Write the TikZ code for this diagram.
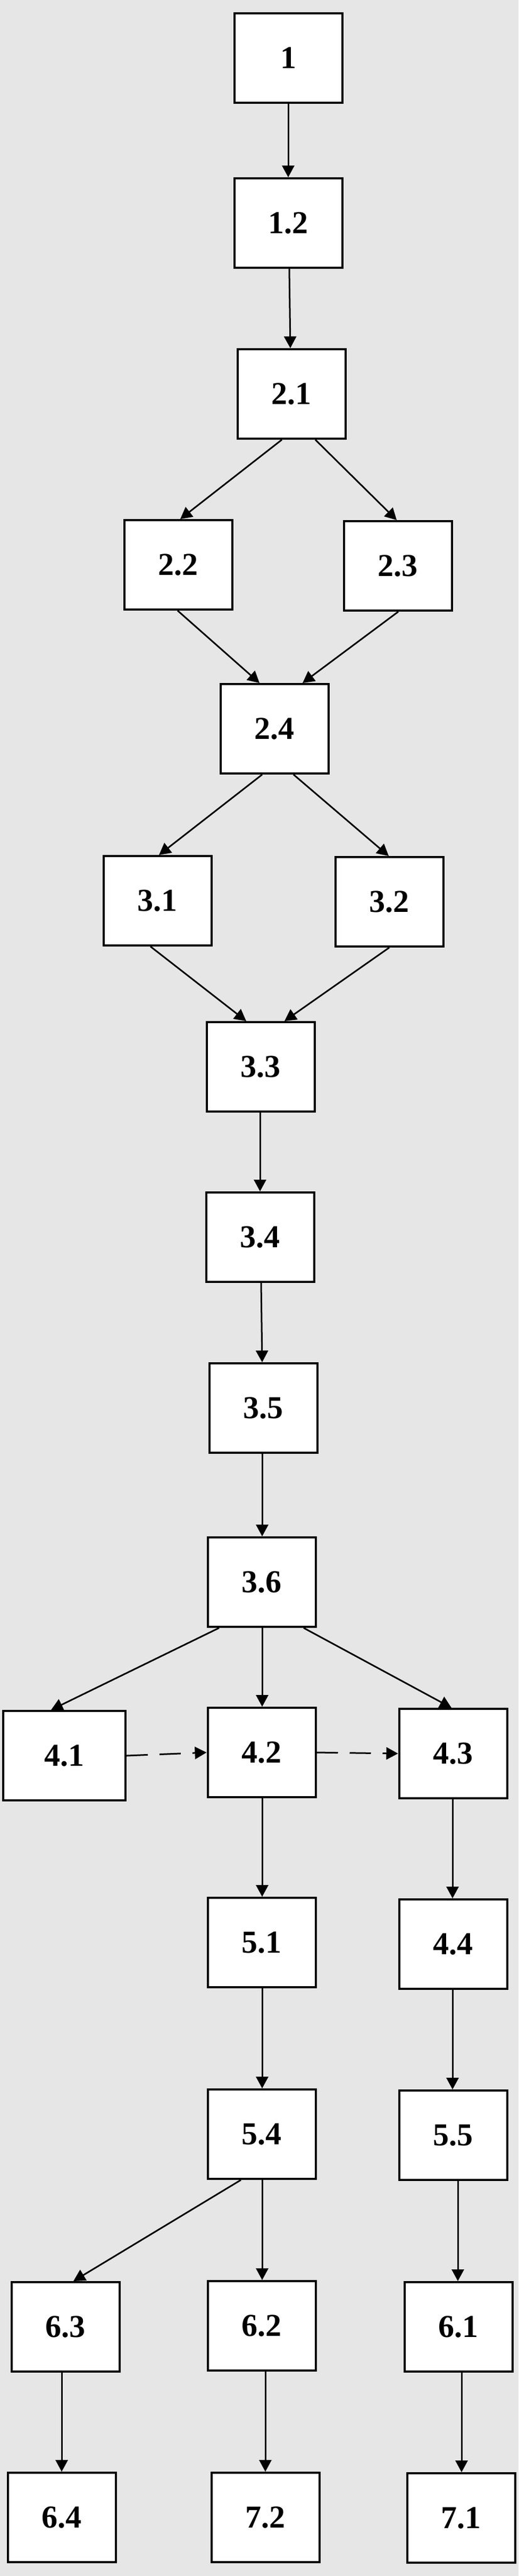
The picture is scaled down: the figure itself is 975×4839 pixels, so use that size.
\documentclass[tikz,border=0pt]{standalone}
\usepackage{fontspec}
\setmainfont{Liberation Serif}
\usetikzlibrary{arrows.meta,calc}
\definecolor{bggray}{HTML}{E6E6E6}
\tikzset{
  box/.style={draw=black, fill=white, line width=2pt, rectangle, inner sep=0pt,
    minimum width=101.5pt, minimum height=84pt,
    font=\fontsize{30}{36}\selectfont\bfseries},
  conn/.style={line width=1.5pt, -{Triangle[length=11pt,width=11.5pt]}},
  dconn/.style={conn, dash pattern=on 20pt off 11pt}
}
\begin{document}
\begin{tikzpicture}[x=0.5pt,y=-0.5pt]
\fill[bggray] (0,0) rectangle (975,4839);
\useasboundingbox (0,0) rectangle (975,4839);
\node[box] (n1)  at (542,109) {1};
\node[box] (n12) at (542,419) {1.2};
\node[box] (n21) at (548,740) {2.1};
\node[box] (n22) at (335,1061) {2.2};
\node[box] (n23) at (748,1063) {2.3};
\node[box] (n24) at (516,1369) {2.4};
\node[box] (n31) at (296,1692) {3.1};
\node[box] (n32) at (732,1694) {3.2};
\node[box] (n33) at (490,2004) {3.3};
\node[box] (n34) at (489,2324) {3.4};
\node[box] (n35) at (495,2645) {3.5};
\node[box] (n36) at (492,2972) {3.6};
\node[box, minimum width=115pt] (n41) at (121,3298) {4.1};
\node[box] (n42) at (492,3292) {4.2};
\node[box] (n43) at (852,3294) {4.3};
\node[box] (n51) at (492,3649) {5.1};
\node[box] (n44) at (852,3652) {4.4};
\node[box] (n54) at (492,4009) {5.4};
\node[box] (n55) at (852,4011) {5.5};
\node[box] (n63) at (123,4371) {6.3};
\node[box] (n62) at (492,4369) {6.2};
\node[box] (n61) at (862,4371) {6.1};
\node[box] (n64) at (116,4729) {6.4};
\node[box] (n72) at (499,4729) {7.2};
\node[box] (n71) at (867,4730) {7.1};

\draw[conn] (n1.south) -- (n12.north);
\draw[conn] ($(n12.south)+(2,0)$) -- ($(n21.north)+(-2,0)$);
\draw[conn] ($(n21.south)+(-18,0)$) -- ($(n22.north)+(4,0)$);
\draw[conn] ($(n21.south)+(45,0)$) -- ($(n23.north)+(-2,0)$);
\draw[conn] ($(n22.south)+(-1,0)$) -- ($(n24.north)+(-28,0)$);
\draw[conn] ($(n23.south)+(1,0)$) -- ($(n24.north)+(53,0)$);
\draw[conn] ($(n24.south)+(-23,0)$) -- ($(n31.north)+(3,0)$);
\draw[conn] ($(n24.south)+(36,0)$) -- ($(n32.north)+(-1,0)$);
\draw[conn] ($(n31.south)+(-13,0)$) -- ($(n33.north)+(-27,0)$);
\draw[conn] (n32.south) -- ($(n33.north)+(45,0)$);
\draw[conn] ($(n33.south)+(-1,0)$) -- (n34.north);
\draw[conn] ($(n34.south)+(2,0)$) -- ($(n35.north)+(-2,0)$);
\draw[conn] ($(n35.south)+(-2,0)$) -- ($(n36.north)+(1,0)$);
\draw[conn] ($(n36.south)+(-80,0)$) -- ($(n41.north)+(-25,0)$);
\draw[conn] ($(n36.south)+(1,0)$) -- ($(n42.north)+(1,0)$);
\draw[conn] ($(n36.south)+(79,0)$) -- ($(n43.north)+(-3,0)$);
\draw[dconn] (n41.east) -- (n42.west);
\draw[dconn] (n42.east) -- (n43.west);
\draw[conn] ($(n42.south)+(1,0)$) -- ($(n51.north)+(1,0)$);
\draw[conn] ($(n43.south)+(-1,0)$) -- ($(n44.north)+(-1,0)$);
\draw[conn] ($(n51.south)+(1,0)$) -- ($(n54.north)+(1,0)$);
\draw[conn] ($(n44.south)+(-1,0)$) -- ($(n55.north)+(-1,0)$);
\draw[conn] ($(n54.south)+(-39,0)$) -- ($(n63.north)+(15,0)$);
\draw[conn] ($(n54.south)+(1,0)$) -- ($(n62.north)+(1,0)$);
\draw[conn] ($(n55.south)+(9,0)$) -- ($(n61.north)+(-1,0)$);
\draw[conn] ($(n63.south)+(-7,0)$) -- (n64.north);
\draw[conn] ($(n62.south)+(7,0)$) -- (n72.north);
\draw[conn] ($(n61.south)+(6,0)$) -- ($(n71.north)+(1,0)$);
\end{tikzpicture}
\end{document}
